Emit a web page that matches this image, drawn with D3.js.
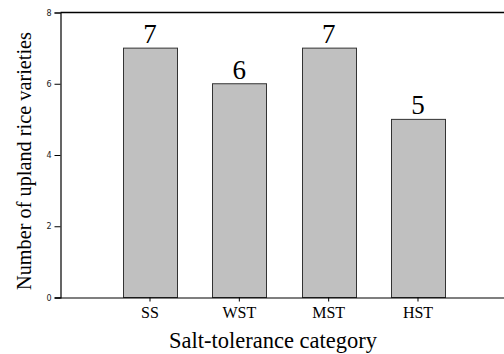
<!DOCTYPE html>
<html><head><meta charset="utf-8">
<script src="https://cdn.jsdelivr.net/npm/d3@7"></script>
<style>body{margin:0;background:#fff}svg{display:block}</style>
</head><body>
<script>
const categories = ["SS", "WST", "MST", "HST"];
const values = [7, 6, 7, 5];
const yTicks = [0, 2, 4, 6, 8];

const W = 504, H = 354;
const svg = d3.select("body").append("svg").attr("width", W).attr("height", H);
const x0 = 60.5, x1 = 504, yb = 297.5, yt = 12.5;

const x = d3.scaleBand().domain(categories).range([60, 508]).paddingInner(0.395).paddingOuter(0.705);
const y = d3.scaleLinear().domain([0, 8]).range([yb, yt]);

// bars
svg.selectAll("rect.bar").data(values).enter().append("rect")
  .attr("x", (d, i) => Math.round(x(categories[i])) + 0.5)
  .attr("y", d => y(d))
  .attr("width", Math.round(x.bandwidth()))
  .attr("height", d => yb - y(d))
  .attr("fill", "#c0c0c0").attr("stroke", "#333").attr("stroke-width", 1);

// value labels
svg.selectAll("text.val").data(values).enter().append("text")
  .attr("x", (d, i) => x(categories[i]) + x.bandwidth() / 2)
  .attr("y", d => y(d) - 5)
  .attr("text-anchor", "middle")
  .attr("font-family", "Liberation Serif, Times New Roman, serif")
  .attr("font-size", 27).attr("fill", "#000")
  .text(d => d);

// top frame line
svg.append("line").attr("x1", x0).attr("x2", x1).attr("y1", yt).attr("y2", yt)
  .attr("stroke", "#000").attr("stroke-width", 1.5);

// y axis
const ya = svg.append("g").attr("transform", `translate(${x0},0)`)
  .call(d3.axisLeft(y).tickValues(yTicks).tickSize(6).tickPadding(3).tickFormat(d3.format("d")));
ya.select(".domain").attr("stroke", "#000").attr("stroke-width", 1.2);
ya.selectAll("line").attr("stroke", "#000");
ya.selectAll("text").attr("font-family", "DejaVu Sans, Verdana, sans-serif").attr("font-size", 8).attr("fill", "#222");

// x axis
const xa = svg.append("g").attr("transform", `translate(0,${yb})`)
  .call(d3.axisBottom(x).tickSize(4).tickPadding(5).tickSizeOuter(0));
xa.select(".domain").attr("d", `M55,0.5H${x1}`).attr("stroke", "#000").attr("stroke-width", 1.2);
xa.selectAll("line").attr("stroke", "#000");
xa.selectAll("text").attr("font-family", "Liberation Serif, Times New Roman, serif").attr("font-size", 16).attr("fill", "#000");

// axis titles
svg.append("text").attr("x", 273).attr("y", 348).attr("text-anchor", "middle")
  .attr("font-family", "Liberation Serif, Times New Roman, serif").attr("font-size", 22.5)
  .text("Salt-tolerance category");
svg.append("text").attr("transform", "translate(31,161) rotate(-90)").attr("text-anchor", "middle")
  .attr("font-family", "Liberation Serif, Times New Roman, serif").attr("font-size", 20.3)
  .text("Number of upland rice varieties");
</script>
</body></html>
